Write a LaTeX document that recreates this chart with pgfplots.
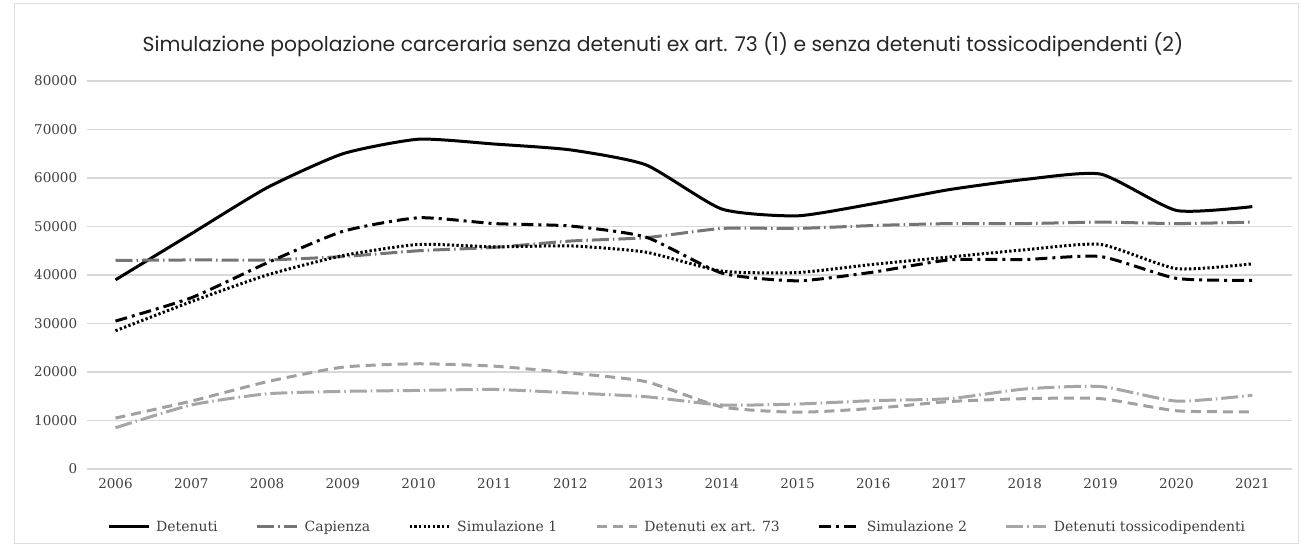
\documentclass[border=0pt]{standalone}
\usepackage{pgfplots}
\pgfplotsset{compat=1.18}
\usepackage{fontspec}
\setmainfont{DejaVu Serif}
\newfontfamily\titlefont{Poppins}
\definecolor{tickgray}{HTML}{404040}
\definecolor{gridgray}{HTML}{D9D9D9}
\definecolor{capgray}{HTML}{757575}
\definecolor{artgray}{HTML}{A0A0A0}
\definecolor{tosgray}{HTML}{A6A6A6}
\begin{document}
\begin{tikzpicture}[x=1bp,y=1bp]
\path[use as bounding box] (0,0) rectangle (1302,550);
\draw[gray!25, line width=1bp] (14,6) rectangle (1298,546);
\node[font=\titlefont\fontsize{20.3bp}{23bp}\selectfont, text=black!85] at (663,505) {Simulazione popolazione carceraria senza detenuti ex art. 73 (1) e senza detenuti tossicodipendenti (2)};
\begin{axis}[
  at={(86.7bp,81bp)}, anchor=south west,
  scale only axis, width=1205bp, height=388bp,
  xmin=2005.62, xmax=2021.52, ymin=0, ymax=80000,
  xtick={2006,...,2021}, ytick={0,10000,...,80000},
  scaled y ticks=false,
  /pgf/number format/1000 sep={},
  /pgf/number format/assume math mode=true,
  axis line style={draw=none},
  major tick length=0pt,
  ymajorgrids, major grid style={gridgray, line width=1.2bp},
  ticklabel style={text=tickgray, font=\fontsize{13.5bp}{15bp}\selectfont},
  xticklabel style={yshift=-6bp},
  yticklabel style={xshift=-6bp},
  legend columns=6,
  legend style={draw=none, fill=none, at={(0.49,-0.149)}, anchor=center,
    font=\fontsize{14bp}{16bp}\selectfont, text=tickgray,
    /tikz/every odd column/.append style={column sep=4bp},
    /tikz/every even column/.append style={column sep=36bp},
    inner sep=0pt},
  legend cell align=left,
  legend image code/.code={\draw[#1] (0bp,0bp) -- (40bp,0bp);},
  every axis plot/.append style={smooth, tension=0.35, line cap=butt},
]
\addplot[black, line width=3bp] coordinates {
(2006,39000)(2007,48500)(2008,58000)(2009,65000)(2010,68000)(2011,67000)(2012,65800)(2013,62700)
(2014,53600)(2015,52200)(2016,54700)(2017,57600)(2018,59700)(2019,60800)(2020,53300)(2021,54100)};
\addlegendentry{Detenuti}
\addplot[capgray, line width=3bp, dash pattern=on 17bp off 4bp on 1.5bp off 4bp] coordinates {
(2006,43000)(2007,43100)(2008,43100)(2009,43800)(2010,45000)(2011,45700)(2012,47000)(2013,47700)
(2014,49600)(2015,49600)(2016,50200)(2017,50600)(2018,50600)(2019,50900)(2020,50600)(2021,50900)};
\addlegendentry{Capienza}
\addplot[black, line width=3bp, dash pattern=on 2.3bp off 2.3bp] coordinates {
(2006,28500)(2007,34500)(2008,40000)(2009,44000)(2010,46300)(2011,45800)(2012,46000)(2013,44700)
(2014,40800)(2015,40500)(2016,42200)(2017,43700)(2018,45200)(2019,46300)(2020,41300)(2021,42300)};
\addlegendentry{Simulazione 1}
\addplot[artgray, line width=3bp, dash pattern=on 10bp off 6bp] coordinates {
(2006,10500)(2007,14000)(2008,18000)(2009,21000)(2010,21700)(2011,21200)(2012,19800)(2013,18000)
(2014,12800)(2015,11700)(2016,12500)(2017,13900)(2018,14500)(2019,14500)(2020,12000)(2021,11800)};
\addlegendentry{Detenuti ex art. 73}
\addplot[black, line width=3bp, dash pattern=on 12bp off 5bp on 3bp off 5bp] coordinates {
(2006,30500)(2007,35300)(2008,42500)(2009,49000)(2010,51800)(2011,50600)(2012,50100)(2013,47800)
(2014,40400)(2015,38800)(2016,40600)(2017,43100)(2018,43200)(2019,43800)(2020,39300)(2021,38900)};
\addlegendentry{Simulazione 2}
\addplot[tosgray, line width=3bp, dash pattern=on 17bp off 4bp on 1.5bp off 4bp] coordinates {
(2006,8500)(2007,13200)(2008,15500)(2009,16000)(2010,16200)(2011,16400)(2012,15700)(2013,14900)
(2014,13200)(2015,13400)(2016,14100)(2017,14500)(2018,16500)(2019,17000)(2020,14000)(2021,15200)};
\addlegendentry{Detenuti tossicodipendenti}
\end{axis}
\end{tikzpicture}
\end{document}
